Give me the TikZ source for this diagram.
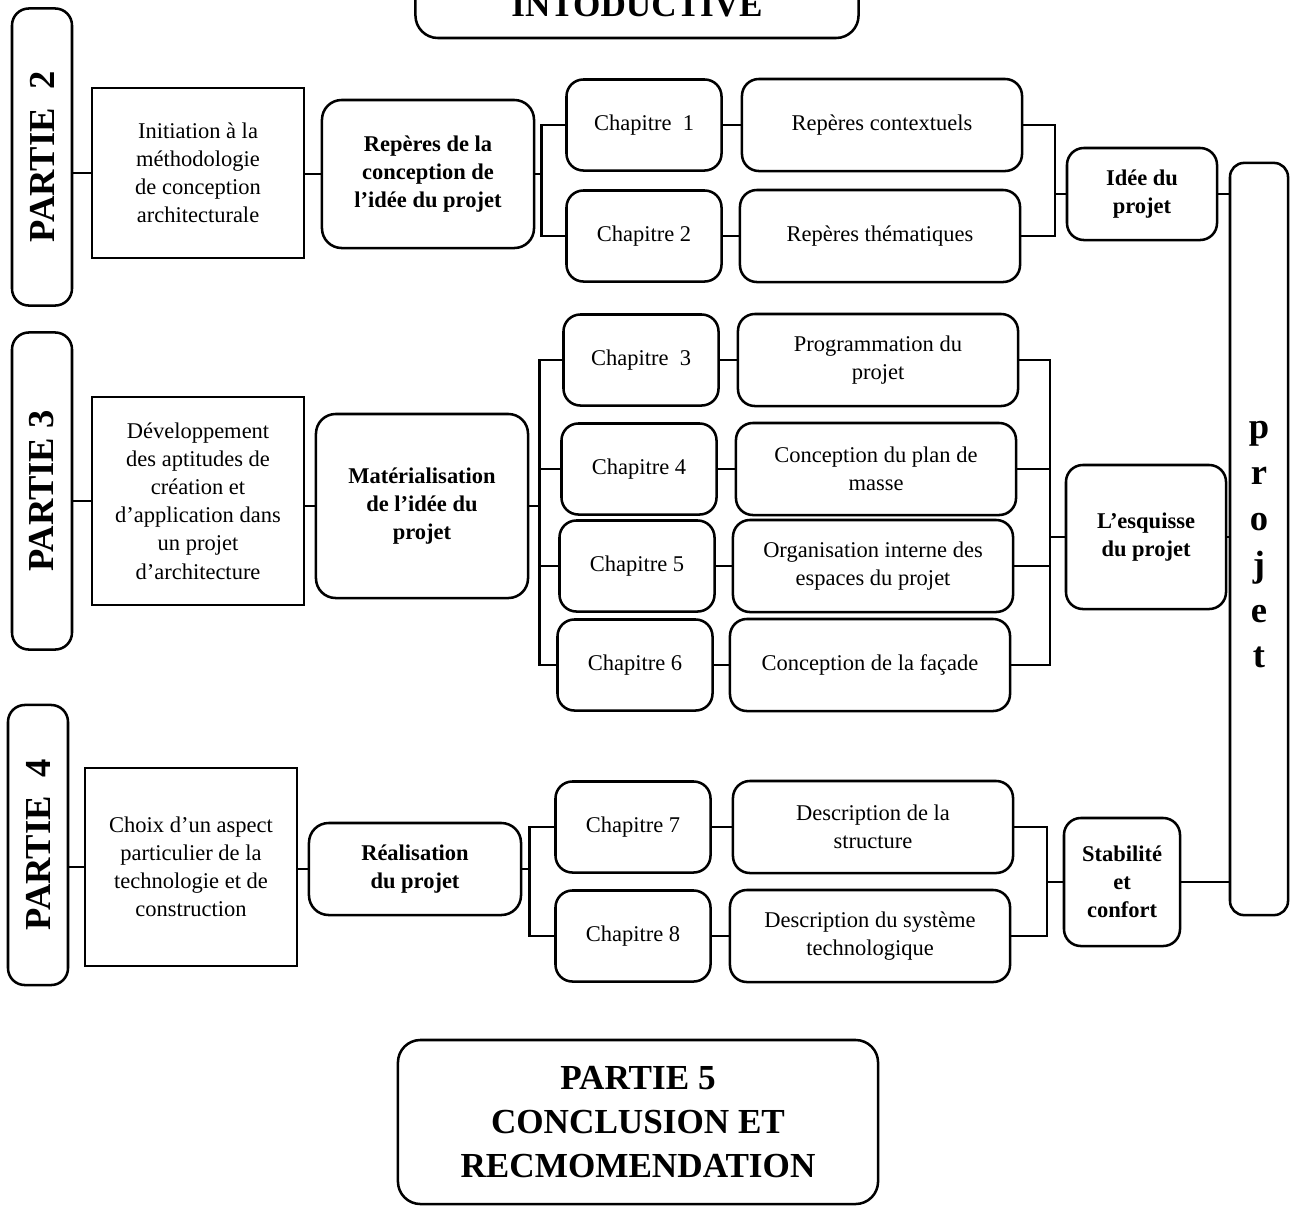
\documentclass[tikz,border=0pt]{standalone}
\usepackage{fontspec}
\setmainfont{Liberation Serif}

\begin{document}
\begin{tikzpicture}[x=0.025cm,y=-0.025cm,line width=1.8pt,
  txt/.style={font=\fontsize{16}{20}\selectfont,align=center},
  partbox/.style={draw,rounded corners=12pt,rotate=90,minimum height=15mm,font=\fontsize{26}{30}\selectfont\bfseries},
  sqbox/.style={draw,txt,minimum width=53mm},
  midbox/.style={draw,txt,rounded corners=14pt,minimum width=53mm,font=\fontsize{16}{20}\selectfont\bfseries},
  chapbox/.style={draw,txt,rounded corners=12pt,minimum width=38.75mm,minimum height=22.75mm},
  descbox/.style={draw,txt,rounded corners=12pt,minimum width=70mm,minimum height=23mm},
  resbox/.style={draw,txt,rounded corners=12pt,font=\fontsize{16}{20}\selectfont\bfseries},
  bigbox/.style={draw,rounded corners=16pt,align=center,font=\fontsize{25}{31}\selectfont\bfseries}]
\useasboundingbox (0,0) rectangle (1294,1206);
\clip (0,0) rectangle (1294,1206);

\node[bigbox,anchor=base,inner ysep=0pt,text height=26mm,text depth=5.5mm,minimum width=110.75mm] (intro) at (637,16) {INTODUCTIVE};

\node[draw,rounded corners=10pt,minimum width=14.5mm,minimum height=188mm,align=center,font=\fontsize{26}{32.6}\selectfont\bfseries] (projet) at (1259,539) {\\[-12pt]p\\r\\o\\j\\e\\t};

% partie 2
\node[partbox,minimum width=74.25mm] (p2) at (42,157) {PARTIE~~2};
\node[sqbox,minimum height=42.5mm] (init) at (198,173) {Initiation à la\\méthodologie\\de conception\\architecturale};
\node[midbox,minimum height=37mm] (rep) at (428,174) {Repères de la\\conception de\\l’idée du projet};
\node[chapbox] (ch1) at (644,125) {Chapitre~~1};
\node[chapbox] (ch2) at (644,236) {Chapitre 2};
\node[descbox] (rc) at (882,125) {Repères contextuels};
\node[descbox] (rt) at (880,236) {Repères thématiques};
\node[resbox,minimum width=37.5mm,minimum height=23mm] (idee) at (1142,194) {Idée du\\projet};
\coordinate (k1) at (1055,0);

\draw (init.west -| p2.south) -- (init.west);
\draw (rep.west -| init.east) -- (rep.west);
\draw (rep.east) -- ++(6,0) |- (ch1.west);
\draw (rep.east) ++(6,0) |- (ch2.west);
\draw (ch1) -- (rc);
\draw (ch2) -- (rt);
\draw (rc.east) -| (k1 |- idee.west) -- (idee.west);
\draw (rt.east) -| (k1 |- idee.west);
\draw (idee.east) -- (idee.east -| projet.west);

% partie 3
\node[partbox,minimum width=79.25mm] (p3) at (42,491) {PARTIE 3};
\node[sqbox,minimum height=52mm] (dev) at (198,501) {Développement\\des aptitudes de\\création et\\d’application dans\\un projet\\d’architecture};
\node[midbox,minimum height=46mm] (mat) at (422,506) {Matérialisation\\de l'idée du\\projet};
\node[chapbox] (ch3) at (641,360) {Chapitre~~3};
\node[chapbox] (ch4) at (639,469) {Chapitre 4};
\node[chapbox] (ch5) at (637,566) {Chapitre 5};
\node[chapbox] (ch6) at (635,665) {Chapitre 6};
\node[descbox] (prog) at (878,360) {Programmation du\\projet};
\node[descbox] (plan) at (876,469) {Conception du plan de\\masse};
\node[descbox] (orga) at (873,566) {Organisation interne des\\espaces du projet};
\node[descbox] (fac) at (870,665) {Conception de la façade};
\node[resbox,minimum width=40mm,minimum height=36mm] (esq) at (1146,537) {L’esquisse\\du projet};
\coordinate (k3) at (1050,0);

\draw (dev.west -| p3.south) -- (dev.west);
\draw (mat.west -| dev.east) -- (mat.west);
\draw (mat.east) -- ++(10,0) |- (ch3.west);
\draw (mat.east) ++(10,0) |- (ch4.west);
\draw (mat.east) ++(10,0) |- (ch5.west);
\draw (mat.east) ++(10,0) |- (ch6.west);
\draw (ch3) -- (prog);
\draw (ch4) -- (plan);
\draw (ch5) -- (orga);
\draw (ch6) -- (fac);
\draw (prog.east) -| (k3 |- esq.west) -- (esq.west);
\draw (plan.east) -| (k3 |- esq.west);
\draw (orga.east) -| (k3 |- esq.west);
\draw (fac.east) -| (k3 |- esq.west);
\draw (esq.east) -- (esq.east -| projet.west);

% partie 4
\node[partbox,minimum width=70mm] (p4) at (38,845) {PARTIE~~4};
\node[sqbox,minimum height=49.5mm] (choix) at (191,867) {Choix d’un aspect\\particulier de la\\technologie et de\\construction};
\node[midbox,minimum height=23mm] (real) at (415,869) {Réalisation\\du projet};
\node[chapbox] (ch7) at (633,827) {Chapitre 7};
\node[chapbox] (ch8) at (633,936) {Chapitre 8};
\node[descbox] (dstr) at (873,827) {Description de la\\structure};
\node[descbox] (dsys) at (870,936) {Description du système\\technologique};
\node[resbox,minimum width=29mm,minimum height=32mm] (stab) at (1122,882) {Stabilité\\et\\confort};
\coordinate (k5) at (1047,0);

\draw (choix.west -| p4.south) -- (choix.west);
\draw (real.west -| choix.east) -- (real.west);
\draw (real.east) -- ++(7,0) |- (ch7.west);
\draw (real.east) ++(7,0) |- (ch8.west);
\draw (ch7) -- (dstr);
\draw (ch8) -- (dsys);
\draw (dstr.east) -| (k5 |- stab.west) -- (stab.west);
\draw (dsys.east) -| (k5 |- stab.west);
\draw (stab.east) -- (stab.east -| projet.west);

\node[bigbox,minimum width=120mm,minimum height=41mm] (p5) at (638,1122) {PARTIE 5\\CONCLUSION ET\\RECMOMENDATION};
\end{tikzpicture}
\end{document}
